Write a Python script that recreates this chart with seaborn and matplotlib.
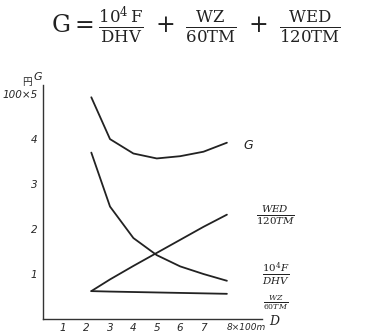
import matplotlib
matplotlib.use("Agg")
import matplotlib.pyplot as plt
import seaborn as sns
import pandas as pd

sns.set_theme(style="white")
plt.rcParams['font.family'] = ['DejaVu Sans', 'Noto Sans CJK JP']
plt.rcParams['mathtext.fontset'] = 'dejavuserif'

D = [2.2, 3, 4, 5, 6, 7, 8]
G = [4.93, 4.0, 3.68, 3.57, 3.62, 3.72, 3.92]
F_term = [3.7, 2.5, 1.8, 1.42, 1.17, 1.0, 0.85]
WED_term = [0.62, 0.88, 1.18, 1.47, 1.76, 2.05, 2.32]
WZ_term = [0.62, 0.61, 0.6, 0.59, 0.58, 0.57, 0.56]

x_ticks = [1, 2, 3, 4, 5, 6, 7, 8]
x_labels = ["1", "2", "3", "4", "5", "6", "7", "8×100m"]
y_ticks = [1, 2, 3, 4, 5]
y_labels = ["1", "2", "3", "4", "100×5"]

df = pd.concat([
    pd.DataFrame({"D": D, "v": G, "s": "G"}),
    pd.DataFrame({"D": D, "v": F_term, "s": "F"}),
    pd.DataFrame({"D": D, "v": WED_term, "s": "WED"}),
    pd.DataFrame({"D": D, "v": WZ_term, "s": "WZ"}),
])

fig = plt.figure(figsize=(3.7, 3.36), dpi=100)
ax = fig.add_axes([0.116, 0.0506, 0.592, 0.696])
sns.lineplot(data=df, x="D", y="v", hue="s", ax=ax, legend=False,
             palette={"G": "#222222", "F": "#222222", "WED": "#222222", "WZ": "#222222"},
             linewidth=1.3)

ax.set_xlim(0.13, 9.5)
ax.set_ylim(0, 5.2)
ax.set_xticks(x_ticks)
ax.set_xticklabels(x_labels, fontstyle="italic", fontsize=7.5)
ax.set_yticks(y_ticks)
ax.set_yticklabels(y_labels, fontstyle="italic", fontsize=7.5)
ax.set_yticks([0.5, 1.5, 2.5, 3.5, 4.5], minor=True)
ax.set_xlabel("")
ax.set_ylabel("")
for s in ["top", "right"]:
    ax.spines[s].set_visible(False)
for s in ["left", "bottom"]:
    ax.spines[s].set_color("#333333")
    ax.spines[s].set_linewidth(1.0)
ax.tick_params(axis="y", which="both", direction="out", length=3, width=0.8, color="#333333", pad=1)
ax.tick_params(axis="x", which="both", direction="in", length=3, width=0.8, color="#333333", pad=3)
for lab in ax.get_xticklabels():
    if lab.get_text().startswith("8"):
        lab.set_horizontalalignment("left")
        lab.set_fontsize(6.5)

fig.text(0.53, 0.925,
         r"$\mathrm{G}=\frac{10^4\,\mathrm{F}}{\mathrm{DHV}}\;+\;\frac{\mathrm{WZ}}{60\mathrm{TM}}\;+\;\frac{\mathrm{WED}}{120\mathrm{TM}}$",
         ha="center", va="center", fontsize=17, color="#222222")

fig.text(0.072, 0.755, "円", fontsize=7, ha="center", va="center", family=['Noto Sans CJK JP'], color="#222222")
fig.text(0.103, 0.772, "G", fontsize=8, ha="center", va="center", fontstyle="italic", color="#222222")
fig.text(0.67, 0.567, "G", fontsize=9, ha="center", va="center", fontstyle="italic", color="#222222")
fig.text(0.745, 0.36, r"$\frac{\mathit{WED}}{\mathit{120TM}}$", fontsize=10.5, ha="center", va="center", color="#222222")
fig.text(0.745, 0.185, r"$\frac{\mathit{10^4F}}{\mathit{DHV}}$", fontsize=10.5, ha="center", va="center", color="#222222")
fig.text(0.745, 0.1, r"$\frac{\mathit{WZ}}{\mathit{60TM}}$", fontsize=8, ha="center", va="center", color="#222222")
fig.text(0.74, 0.042, "D", fontsize=9, ha="center", va="center", fontstyle="italic", family="DejaVu Serif", color="#222222")

fig.savefig("out.png", dpi=100)
